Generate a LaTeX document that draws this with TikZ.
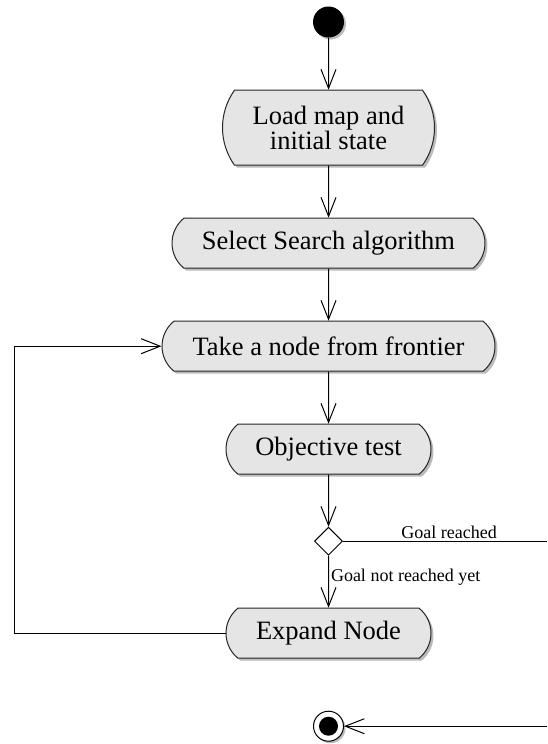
\documentclass[tikz,border=0pt]{standalone}
\usepackage{fontspec}
\setmainfont{Liberation Serif}
\usepackage{tikz}
\usetikzlibrary{positioning,arrows.meta,shapes.geometric,shapes.misc,shadows}

\begin{document}
\begin{tikzpicture}[
x=1pt, y=1pt,
node distance=52pt,
>={Straight Barb[length=19pt,width=15pt]},
every node/.style={font=\fontsize{26.5}{23}\selectfont},
action/.style={
draw=black!85,
line width=1pt,
rounded rectangle,
rounded rectangle arc length=102,
align=center,
minimum height=50pt,
inner xsep=0pt,
fill=black!10,
drop shadow={shadow xshift=2.5pt,shadow yshift=-2.5pt,fill=black!45,opacity=0.6}
},
initstate/.style={
circle,
fill=black,
minimum size=31pt,
inner sep=0pt,
drop shadow={shadow xshift=2pt,shadow yshift=-2pt,fill=black!45,opacity=0.6}
},
endstate/.style={
circle,
draw=black,
line width=1pt,
fill=white,
minimum size=30pt,
inner sep=0pt,
drop shadow={shadow xshift=2pt,shadow yshift=-2pt,fill=black!45,opacity=0.6}
},
decision/.style={
diamond,
draw=black,
line width=1pt,
fill=white,
minimum size=28pt,
inner sep=0pt
},
lbl/.style={font=\fontsize{18}{20}\selectfont, inner sep=2pt},
arrow/.style={->,line width=1pt}
]

\useasboundingbox (0,0) rectangle (547,-744);

% Start
\node[initstate] (start) at (328.5,-22) {};

% Load
\node[action, below=of start, minimum width=212pt, minimum height=75pt,
rounded rectangle arc length=71] (load)
{Load map and\\initial state};

% Select
\node[action, below=of load, minimum width=313pt] (select)
{Select Search algorithm};

% Take
\node[action, below=of select, minimum width=333pt] (take)
{Take a node from frontier};

% Test
\node[action, below=of take, minimum width=205pt] (test)
{Objective test};

% Decision
\node[decision, below=of test] (decide) {};

% Expand
\node[action, below=of decide, minimum width=205pt] (expand)
{Expand Node};

% End
\node[endstate, below=of expand] (stop) {};
\fill (stop.center) circle (9.5pt);

% Free ends
\coordinate (loopx) at (14,0);
\coordinate (goalend) at (547,0 |- decide.east);
\coordinate (finalend) at (547,0 |- stop.east);

% Arrows
\draw[arrow] (start)--(load);
\draw[arrow] (load)--(select);
\draw[arrow] (select)--(take);
\draw[arrow] (take)--(test);
\draw[arrow] (test)--(decide);

\draw[arrow] (decide)--
node[lbl, right, pos=0.42] {Goal not reached yet} (expand);
\draw[line width=1pt] (decide.east)--
node[lbl, above, pos=0.52] {Goal reached} (goalend);

\draw[arrow] (expand.west)--(expand.west -| loopx) |- (take.west);

\draw[arrow] (finalend)--(stop.east);

\end{tikzpicture}
\end{document}
